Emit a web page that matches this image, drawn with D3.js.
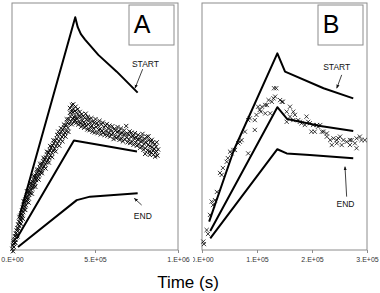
<!DOCTYPE html>
<html>
<head>
<meta charset="utf-8">
<script src="https://cdn.jsdelivr.net/npm/d3@7"></script>
<style>
body { margin: 0; background: #fff; }
text { font-family: Arial, "Liberation Sans", sans-serif; }
</style>
</head>
<body>
<svg id="chart" width="380" height="293"></svg>
<script>
// x values in units of 1e4 s, y in arbitrary units (0-100, no y axis shown)
const ticksA = [0, 50, 100];
const tickLabelsA = ['0.E+00', '5.E+05', '1.E+06'];
const ticksB = [0, 10, 20, 30];
const tickLabelsB = ['0.E+00', '1.E+05', '2.E+05', '3.E+05'];

const startA = [[4.4, 13.5], [38.1, 94.2], [39.6, 90.2], [41.5, 87.4], [44, 85.2], [52, 79], [63.1, 72.2], [75.7, 63.7]];
const middleA = [[3, 4.9], [37.3, 44.3], [53, 42.5], [75.3, 39.9]];
const endA = [[3.6, 1.2], [39, 20.2], [47, 21.6], [75.7, 23]];

const startB = [[1.3, 11.5], [5.8, 40.5], [13.7, 79.6], [15.1, 72.2], [22.1, 65.5], [27.5, 61.4]];
const middleB = [[1.5, 7.7], [13.7, 57.8], [15.5, 53], [21.5, 50.2], [27.5, 48.2]];
const endB = [[1.5, 4.7], [13.7, 40.8], [15.4, 39.1], [19.6, 38.5], [27.5, 37.1]];

const measuredA = [
  [0.2,0.5],[0.5,1.8],[0.6,-0.5],[0.9,2.6],[1.1,1.2],[1.4,4.1],[1.6,2.9],[1.8,5.6],[2.1,4.2],[2.3,6.8],
  [2.5,5.1],[2.8,7.9],[3.0,6.3],[3.2,8.9],[3.5,7.6],[3.7,10.4],[3.9,8.8],[4.2,11.5],[4.4,9.7],[4.7,12.6],
  [4.9,11.0],[5.1,13.9],[5.4,12.2],[5.6,14.8],[5.9,13.1],[6.1,16.0],[6.3,14.0],[6.6,17.2],[6.8,15.3],[7.1,18.0],
  [7.3,16.4],[7.6,19.3],[7.8,17.5],[8.1,20.4],[8.3,18.2],[8.6,21.3],[8.8,19.5],[9.1,22.1],[9.4,20.4],[9.6,23.2],
  [9.9,21.0],[10.2,24.0],[10.4,22.3],[10.7,25.1],[11.0,23.0],[11.3,26.0],[11.5,24.1],[11.8,26.8],[12.1,24.9],[12.4,27.7],
  [12.7,25.6],[13.0,28.4],[13.3,26.5],[13.6,29.3],[13.9,27.2],[14.2,30.1],[14.5,28.3],[14.8,31.0],[15.1,29.0],[15.4,31.6],
  [15.8,29.8],[16.1,32.5],[16.4,30.6],[16.8,33.3],[17.1,31.4],[17.5,34.2],[17.8,32.0],[18.2,35.0],[18.5,33.1],[18.9,35.8],
  [19.2,33.9],[19.6,36.7],[20.0,34.6],[20.4,37.5],[20.8,35.5],[21.2,38.6],[21.6,36.4],[22.0,39.5],[22.4,37.3],[22.8,40.4],
  [23.2,38.2],[23.6,41.4],[24.0,39.4],[24.4,42.3],[24.8,40.1],[25.2,43.2],[25.7,41.0],[26.1,44.3],[26.5,42.0],[27.0,45.1],
  [27.4,43.0],[27.9,47.9],[28.3,44.0],[28.8,46.8],[29.2,44.9],[29.7,47.9],[30.1,45.8],[30.6,48.8],[31.0,46.5],[31.5,49.6],
  [31.9,47.4],[32.4,50.5],[32.8,48.1],[33.3,51.6],[33.7,49.5],[34.1,53.0],[34.5,51.0],[34.9,57.5],[35.2,54.2],[35.5,52.1],
  [35.8,56.0],[36.1,58.6],[36.4,53.2],[36.7,55.8],[37.0,57.1],[37.3,53.9],
  [1.0,3.5],[2.0,3.0],[3.3,5.5],[4.5,13.4],[5.3,10.5],[6.5,12.6],[7.0,19.8],[8.0,16.2],[9.0,23.8],[10.0,19.2],
  [11.1,27.1],[12.0,22.8],[13.1,30.0],[14.0,25.6],[15.0,32.6],[16.0,28.5],[17.0,34.9],[18.0,31.1],[19.0,37.3],[20.2,33.0],
  [21.0,39.8],[22.2,35.4],[23.0,42.1],[24.2,37.6],[25.0,44.4],[26.3,39.9],[27.2,46.6],[28.5,42.2],[29.5,49.3],[30.4,44.0],
  [31.3,50.8],[32.2,45.9],[33.0,52.9],[34.0,47.8],[35.0,55.6],[36.0,50.9],[36.9,59.0],[37.5,51.8],
  [37.8,56.2],[38.0,52.6],[38.3,58.0],[38.5,54.0],[38.8,51.5],[39.0,55.6],[39.3,53.1],[39.6,57.0],[39.9,50.8],[40.2,54.3],
  [40.5,52.0],[40.8,55.9],[41.1,51.2],[41.4,53.8],[41.7,49.9],[42.0,55.0],[42.3,52.4],[42.6,50.6],[42.9,54.1],[43.2,51.8],
  [43.5,49.5],[43.8,53.6],[44.1,51.0],[44.4,55.2],[44.7,50.2],[45.0,52.7],[45.4,48.8],[45.7,53.9],[46.0,50.9],[46.4,52.8],
  [46.7,48.5],[47.1,51.6],[47.4,49.7],[47.8,53.4],[48.1,50.3],[48.5,47.9],[48.8,52.0],[49.2,49.2],[49.6,51.5],[49.9,47.6],
  [50.3,53.0],[50.7,49.8],[51.1,51.4],[51.5,47.3],[51.9,50.5],[52.3,48.6],[52.7,52.3],[53.1,49.0],[53.5,46.8],[53.9,50.9],
  [54.3,48.2],[54.7,51.6],[55.1,47.5],[55.5,49.6],[55.9,46.6],[56.3,50.4],[56.7,48.0],[57.1,51.0],[57.5,46.3],[57.9,49.2],
  [58.3,47.4],[58.7,50.3],[59.1,45.9],[59.5,48.6],[60.0,46.8],[60.4,50.1],[60.8,47.3],[61.2,44.9],[61.6,49.0],[62.0,46.0],
  [62.4,48.5],[62.8,45.3],[63.2,47.7],[63.6,49.8],[64.0,45.8],[64.4,48.1],[64.8,44.6],[65.2,47.0],[65.6,49.2],[66.0,45.2],
  [66.4,47.5],[66.8,44.0],[67.2,46.6],[67.6,48.4],[68.0,44.8],[68.4,47.0],[68.8,50.2],[69.2,45.6],[69.6,43.6],[70.0,46.9],
  [70.4,44.7],[70.8,48.0],[71.2,43.3],[71.6,45.9],[72.0,47.5],[72.4,43.9],[72.8,46.2],[73.2,42.6],[73.6,45.2],[74.0,47.3],
  [74.4,43.5],[74.8,45.6],[75.2,42.2],[75.6,44.7],[76.0,46.6],[76.4,42.8],[76.8,45.0],[77.2,41.4],[77.6,43.9],[78.0,45.8],
  [78.4,41.9],[78.8,44.3],[79.2,40.6],[79.6,43.0],[80.0,45.1],[80.4,41.2],[80.8,43.6],[81.2,45.9],[81.6,40.3],[82.0,42.5],
  [82.4,44.4],[82.8,39.8],[83.2,42.0],[83.6,44.0],[84.0,39.5],[84.4,41.6],[84.8,43.5],[85.2,38.6],[85.6,41.0],[86.0,42.9],
  [86.4,39.4],[86.8,41.8],[87.2,43.6],[87.6,38.2],[88.0,40.7],[85.0,40.2],[86.2,37.8],[84.2,44.6],[87.0,39.9],[83.0,38.5],
  [82.2,46.0],[80.2,38.9],[78.6,47.0]
];

const measuredB = [
  [0.24,3.4],[0.36,2.4],[0.85,8.1],[1.1,6.5],[1.45,14.2],[1.76,19.6],[2.0,18.2],[2.36,20.2],[2.7,23.5],[3.27,31.2],
  [3.58,30.4],[3.8,33.2],[4.49,35.7],[4.7,37.2],[5.1,39.8],[5.4,39.1],[5.7,40.5],[6.0,40.5],[6.6,43.2],[6.9,43.8],
  [7.2,44.5],[7.8,47.9],[8.4,52.6],[8.4,39.1],[8.7,53.3],[9.6,52.6],[9.6,48.6],[9.9,54.7],[10.2,58.0],[10.5,56.7],
  [10.9,58.0],[10.7,56.0],[11.5,58.7],[11.5,55.3],[11.8,58.7],[12.1,60.7],[12.4,55.3],[12.7,60.0],[13.0,61.4],[13.1,65.5],
  [13.5,65.5],[13.3,62.1],[14.2,60.7],[14.5,60.0],[14.7,60.0],[15.4,56.0],[16.0,58.0],[16.0,54.0],[16.6,56.0],[16.6,52.6],
  [16.9,54.7],[15.4,51.9],[17.5,52.6],[17.8,51.9],[18.1,51.3],[18.7,50.6],[19.0,54.0],[19.3,51.9],[19.6,51.3],[19.9,47.9],
  [20.2,50.6],[20.5,47.9],[20.9,50.6],[21.1,49.9],[21.5,50.6],[21.8,47.9],[22.1,47.9],[22.7,45.9],[22.7,47.2],[23.3,44.5],
  [23.6,42.5],[23.9,45.2],[24.5,44.5],[24.5,43.2],[24.8,45.2],[25.1,45.9],[25.4,42.5],[25.7,44.5],[26.3,43.8],[26.9,42.5],
  [26.9,44.5],[27.2,44.5],[27.8,43.2],[28.1,45.2],[28.1,41.2],[28.7,45.9],[29.0,44.5],[29.6,44.5]
];

// annotations: label, text position, arrow from -> to (data units)
const notesA = [
  { text: 'START', at: [80.4, 74.2], from: [78.7, 73.2], to: [74.1, 65.5] },
  { text: 'END', at: [78.8, 12.6], from: [78.1, 18.2], to: [73.7, 20.9] }
];
const notesB = [
  { text: 'START', at: [24.5, 72.9], from: [25.4, 70.9], to: [24.5, 65.5] },
  { text: 'END', at: [26.1, 17.4], from: [26.3, 21.6], to: [26.0, 33.7] }
];

const svg = d3.select('#chart');
const FRAME = '#8c8c8c';

svg.append('defs').append('marker')
  .attr('id', 'arrow')
  .attr('viewBox', '0 0 10 10')
  .attr('refX', 9).attr('refY', 5)
  .attr('markerWidth', 5).attr('markerHeight', 5)
  .attr('orient', 'auto')
  .append('path')
  .attr('d', 'M0,1L10,5L0,9Z')
  .attr('fill', '#111');

svg.select('defs').append('clipPath')
  .attr('id', 'clipB')
  .append('rect')
  .attr('x', 193).attr('y', 0).attr('width', 187).attr('height', 293);

function drawPanel(g, p) {
  const x = d3.scaleLinear().domain(p.xDomain).range(p.xRange);
  const y = d3.scaleLinear().domain([0, 100]).range([250, 3]);

  // axis ticks + labels
  const axis = g.append('g')
    .attr('transform', 'translate(0,250)')
    .call(d3.axisBottom(x)
      .tickValues(p.ticks)
      .tickSize(3)
      .tickFormat((d, i) => p.labels[i]));
  axis.select('.domain').remove();
  axis.selectAll('line').attr('stroke', FRAME);
  axis.selectAll('text')
    .attr('font-size', 7)
    .attr('fill', '#333')
    .attr('y', 7)
    .style('font-family', 'Arial, "Liberation Sans", sans-serif');

  // frame
  g.append('rect')
    .attr('x', p.xRange[0]).attr('y', 3)
    .attr('width', p.xRange[1] - p.xRange[0]).attr('height', 247)
    .attr('fill', 'none').attr('stroke', FRAME).attr('stroke-width', 1);

  // measured points as crosses
  const s = 2.1;
  g.append('g')
    .selectAll('path')
    .data(p.points)
    .enter()
    .append('path')
    .attr('d', d => {
      const cx = x(d[0]), cy = y(d[1]);
      return `M${cx - s},${cy - s}L${cx + s},${cy + s}M${cx - s},${cy + s}L${cx + s},${cy - s}`;
    })
    .attr('stroke', '#000')
    .attr('stroke-width', p.crossWidth)
    .attr('fill', 'none');

  // model lines
  const line = d3.line().x(d => x(d[0])).y(d => y(d[1]));
  g.selectAll('path.model')
    .data(p.lines)
    .enter()
    .append('path')
    .attr('class', 'model')
    .attr('d', line)
    .attr('fill', 'none')
    .attr('stroke', '#000')
    .attr('stroke-width', 2)
    .attr('stroke-linejoin', 'round');

  // START / END notes
  p.notes.forEach(n => {
    g.append('text')
      .attr('x', x(n.at[0])).attr('y', y(n.at[1]))
      .attr('text-anchor', 'middle')
      .attr('font-size', 8.5)
      .attr('fill', '#111')
      .text(n.text);
    g.append('line')
      .attr('x1', x(n.from[0])).attr('y1', y(n.from[1]))
      .attr('x2', x(n.to[0])).attr('y2', y(n.to[1]))
      .attr('stroke', '#111').attr('stroke-width', 0.8)
      .attr('marker-end', 'url(#arrow)');
  });

  // panel letter box
  g.append('rect')
    .attr('x', p.box[0]).attr('y', 5)
    .attr('width', 45).attr('height', 40)
    .attr('fill', '#fff').attr('stroke', FRAME).attr('stroke-width', 1);
  g.append('text')
    .attr('x', p.box[0] + 13).attr('y', 33)
    .attr('text-anchor', 'middle')
    .attr('font-size', 25)
    .attr('fill', '#000')
    .text(p.letter);
}

drawPanel(svg.append('g'), {
  xDomain: [0, 100], xRange: [12, 178],
  ticks: ticksA, labels: tickLabelsA,
  points: measuredA, lines: [startA, middleA, endA],
  notes: notesA, box: [129], letter: 'A', crossWidth: 0.9
});

drawPanel(svg.append('g').attr('clip-path', 'url(#clipB)'), {
  xDomain: [0, 30], xRange: [202, 367],
  ticks: ticksB, labels: tickLabelsB,
  points: measuredB, lines: [startB, middleB, endB],
  notes: notesB, box: [318], letter: 'B', crossWidth: 0.75
});

svg.append('text')
  .attr('x', 188).attr('y', 288)
  .attr('text-anchor', 'middle')
  .attr('font-size', 17)
  .attr('fill', '#000')
  .text('Time (s)');
</script>
</body>
</html>
